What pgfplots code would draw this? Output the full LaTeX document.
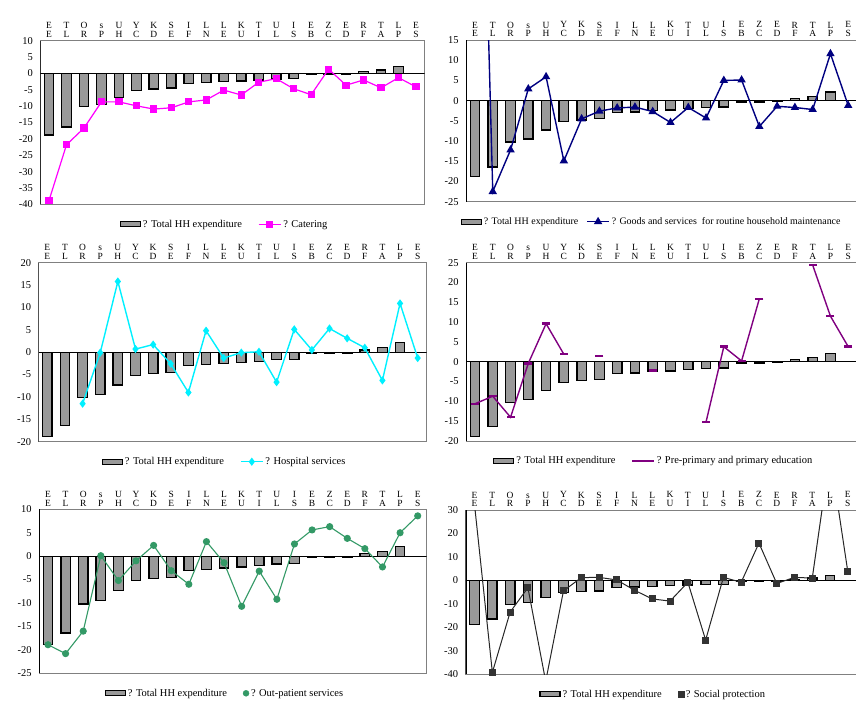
\documentclass[border=0pt]{standalone}
\usepackage{fontspec}
\setmainfont{Liberation Serif}
\usepackage{pgfplots}
\usepackage{pgfplotstable}
\pgfplotsset{compat=1.18}

\definecolor{barfill}{HTML}{999999}
\definecolor{magentaline}{HTML}{FF00FF}
\definecolor{navyline}{HTML}{000080}
\definecolor{cyanline}{HTML}{00F0FF}
\definecolor{purpleline}{HTML}{800080}
\definecolor{greenline}{HTML}{339966}
\definecolor{darkmark}{HTML}{333333}

% total household expenditure, same in every panel
\pgfplotstableread{
x y
1 -18.8
2 -16.4
3 -10.2
4 -9.5
5 -7.3
6 -5.2
7 -4.8
8 -4.5
9 -3.0
10 -2.8
11 -2.5
12 -2.3
13 -2.0
14 -1.7
15 -1.6
16 -0.3
17 -0.3
18 -0.2
19 0.5
20 1.0
21 2.1
}\hhtotal

\pgfplotsset{
  panel/.style={
    scale only axis,
    anchor=north west,
    xmin=0.5, xmax=22.5,
    xtick={1,...,22},
    xticklabels={{E\\E},{T\\L},{O\\R},{s\\P},{U\\H},{Y\\C},{K\\D},{S\\E},{I\\F},{L\\N},{L\\E},{K\\U},{T\\I},{U\\L},{I\\S},{E\\B},{Z\\C},{E\\D},{R\\F},{T\\A},{L\\P},{E\\S}},
    xticklabel pos=upper,
    xticklabel style={font=\fontsize{9.5}{9}\selectfont, align=center, yshift=-0.5bp},
    yticklabel style={font=\fontsize{10.5}{12}\selectfont, xshift=-4bp},
    major tick length=0pt,
    axis line style={gray, line width=0.8bp},
    /pgf/number format/assume math mode=true,
    unbounded coords=jump,
    legend columns=-1,
    legend style={draw=none, fill=none, font=\fontsize{10.5}{12}\selectfont,
      at={(0.5,0)}, anchor=center, yshift=-20bp, xshift=-8bp,
      /tikz/every even column/.append style={column sep=14bp}},
    legend image code/.code={\draw[mark repeat=2,mark phase=2,##1] plot coordinates {(0bp,0bp) (11bp,0bp) (22bp,0bp)};},
  },
}

\newcommand{\hhbars}{%
  \addplot[ybar, bar width=9.5bp, fill=barfill, draw=black, line width=1.3bp,
    legend image code/.code={\draw[fill=barfill, draw=black, line width=1.3bp] (0bp,-2.5bp) rectangle (20bp,2.5bp);}]
    table {\hhtotal};
  \addlegendentry{? Total HH expenditure}
  \draw[black, line width=1.2bp] (axis cs:0.5,0) -- (axis cs:22.5,0);
}
\newcommand{\leftspine}{%
  \draw[black, line width=1.6bp] (rel axis cs:0,0) -- (rel axis cs:0,1);
}

\begin{document}
\begin{tikzpicture}

% catering
\begin{axis}[panel, at={(40.3bp,-40.7bp)}, width=384.4bp, height=163.6bp,
  ymin=-40, ymax=10, ytick distance=5]
\hhbars
\addplot[color=magentaline, line width=1.2bp, mark=square*, mark size=3bp] coordinates {
  (1,-38.8) (2,-21.8) (3,-16.7) (4,-8.7) (5,-8.7) (6,-9.9) (7,-10.9) (8,-10.5)
  (9,-8.7) (10,-8.1) (11,-5.1) (12,-6.6) (13,-2.7) (14,-1.6) (15,-4.7) (16,-6.5)
  (17,1.3) (18,-3.6) (19,-2.0) (20,-4.4) (21,-1.3) (22,-4.1)
};
\addlegendentry{? Catering}
\leftspine
\end{axis}

% goods and services for routine household maintenance
\begin{axis}[panel, at={(466.1bp,-40bp)}, width=391bp, height=161.7bp,
  ymin=-25, ymax=15, ytick distance=5,
  legend style={font=\fontsize{10}{12}\selectfont, xshift=-2bp,
    /tikz/every even column/.append style={column sep=6bp}}]
\hhbars
\addplot[color=navyline, line width=1.4bp, mark=triangle*, mark size=3.5bp] coordinates {
  (1,140) (2,-22.5) (3,-12.2) (4,2.9) (5,5.9) (6,-14.9) (7,-4.5) (8,-2.6)
  (9,-1.8) (10,-1.6) (11,-2.7) (12,-5.4) (13,-1.7) (14,-4.3) (15,5.0) (16,5.1)
  (17,-6.4) (18,-1.4) (19,-1.7) (20,-2.2) (21,11.6) (22,-1.2)
};
\addlegendentry{? Goods and services\ \ for routine household maintenance}
\leftspine
\end{axis}

% hospital services
\begin{axis}[panel, at={(38.5bp,-262.7bp)}, width=388bp, height=179bp,
  ymin=-20, ymax=20, ytick distance=5]
\hhbars
\addplot[color=cyanline, line width=1.4bp, mark=diamond*, mark size=3bp] coordinates {
  (3,-11.5) (4,-0.1) (5,15.8) (6,0.7) (7,1.7) (8,-2.6) (9,-9.0) (10,4.8)
  (11,-1.3) (12,-0.1) (13,0.1) (14,-6.7) (15,5.1) (16,0.5) (17,5.3) (18,3.1)
  (19,1.0) (20,-6.3) (21,10.9) (22,-1.3)
};
\addlegendentry{? Hospital services}
\leftspine
\end{axis}

% pre-primary and primary education
\begin{axis}[panel, at={(466.1bp,-262.7bp)}, width=391bp, height=178.3bp,
  ymin=-20, ymax=25, ytick distance=5]
\hhbars
\addplot[color=purpleline, line width=1.4bp, mark=-, mark size=4bp, mark options={line width=2.5bp}] coordinates {
  (1,-10.6) (2,-8.7) (3,-14.0) (4,-0.4) (5,9.6) (6,1.9) (7,nan) (8,1.4)
  (9,nan) (10,nan) (11,-2.2) (12,nan) (13,nan) (14,-15.2) (15,3.8) (16,0.2)
  (17,15.9) (18,nan) (19,nan) (20,24.4) (21,11.5) (22,3.8)
};
\addlegendentry{? Pre-primary and primary education}
\leftspine
\end{axis}

% out-patient services
\begin{axis}[panel, at={(39.2bp,-509.3bp)}, width=387.3bp, height=164bp,
  ymin=-25, ymax=10, ytick distance=5]
\hhbars
\addplot[color=greenline, line width=1.1bp, mark=*, mark size=3bp, forget plot] coordinates {
  (1,-18.9) (2,-20.8) (3,-16.0) (4,0.1) (5,-5.2) (6,-1.0) (7,2.3) (8,-3.1)
  (9,-6.0) (10,3.1) (11,-1.4) (12,-10.7) (13,-3.2) (14,-9.2) (15,2.6) (16,5.6)
  (17,6.3) (18,3.8) (19,1.6) (20,-2.3) (21,5.0) (22,8.6)
};
\addlegendimage{only marks, color=greenline, mark=*, mark size=3bp}
\addlegendentry{? Out-patient services}
\leftspine
\end{axis}

% social protection
\begin{axis}[panel, at={(465.7bp,-510bp)}, width=391bp, height=164.3bp,
  ymin=-40, ymax=30, ytick distance=10]
\hhbars
\addplot[color=black!85, line width=1bp, mark=square*, mark size=3bp,
  mark options={fill=darkmark, draw=darkmark}, forget plot] coordinates {
  (1,32) (2,-39.2) (3,-13.5) (4,-3.1) (5,-43) (6,-4.5) (7,1.2) (8,1.3)
  (9,0.2) (10,-4.2) (11,-7.9) (12,-8.8) (13,-0.8) (14,-25.4) (15,1.3) (16,-0.8)
  (17,15.9) (18,-1.3) (19,1.3) (20,1.0) (21,54) (22,3.7)
};
\addlegendimage{only marks, mark=square*, mark size=3bp, fill=darkmark, draw=darkmark}
\addlegendentry{? Social protection}
\leftspine
\end{axis}

\pgfresetboundingbox
\path[use as bounding box] (0bp,0bp) rectangle (856bp,-708bp);
\end{tikzpicture}
\end{document}
